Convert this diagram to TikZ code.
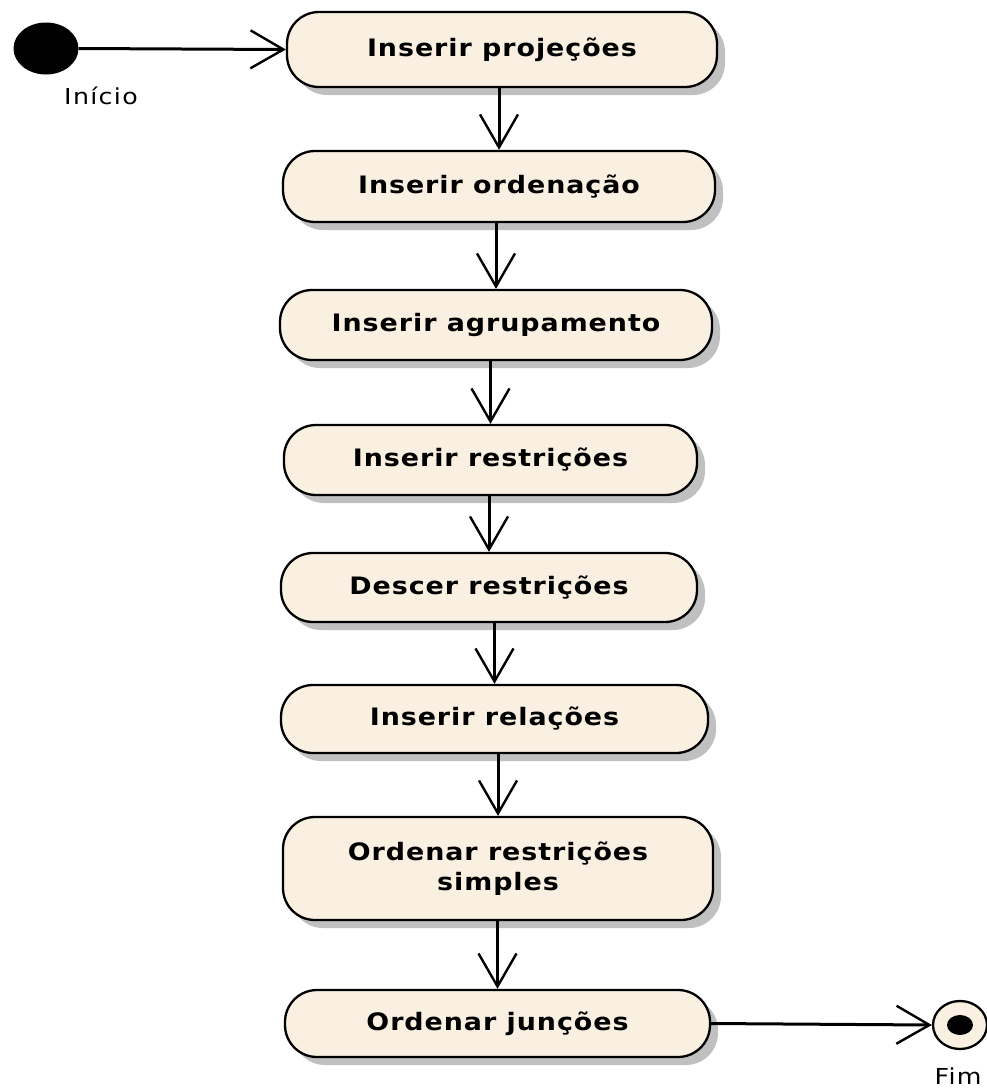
\documentclass[tikz,border=0pt]{standalone}
\usepackage{fontspec}
\setmainfont{DejaVu Sans}
\usetikzlibrary{arrows.meta,shadows,shapes.geometric}
\definecolor{actfill}{RGB}{250,240,226}
\definecolor{shade}{RGB}{192,192,192}
\begin{document}
\begin{tikzpicture}[x=1pt,y=-1pt,
  action/.style={draw, line width=2.3pt, fill=actfill, rounded corners=32pt,
    font=\bfseries\fontsize{24}{30}\selectfont\addfontfeatures{FakeStretch=1.12,LetterSpace=4},
    align=center, inner sep=0pt,
    drop shadow={shadow xshift=8pt, shadow yshift=-8pt, fill=shade, opacity=1}},
  flow/.style={line width=3pt, -{Straight Barb[length=33pt,width=38pt,line width=2.4pt]}},
  lbl/.style={font=\fontsize{22}{26}\selectfont\addfontfeatures{FakeStretch=1.15,LetterSpace=6}}
]
\useasboundingbox (0,0) rectangle (987,1090);

% activity states
\node[action, minimum width=430pt, minimum height=75pt] (a1) at (502,49.5) {Inserir projeções};
\node[action, minimum width=432pt, minimum height=71pt] (a2) at (499,186.5) {Inserir ordenação};
\node[action, minimum width=432pt, minimum height=70pt] (a3) at (496,325) {Inserir agrupamento};
\node[action, minimum width=413pt, minimum height=70pt] (a4) at (490.5,460) {Inserir restrições};
\node[action, minimum width=416pt, minimum height=69pt] (a5) at (489,587.5) {Descer restrições};
\node[action, minimum width=427pt, minimum height=68pt] (a6) at (494.5,719) {Inserir relações};
\node[action, minimum width=430pt, minimum height=103pt] (a7) at (498,868.5) {Ordenar restrições\\simples};
\node[action, minimum width=425pt, minimum height=67pt] (a8) at (497.5,1023.5) {Ordenar junções};

% initial state
\node[ellipse, fill=black, minimum width=65pt, minimum height=52pt, inner sep=0pt] (start) at (46,48.5) {};
\node[lbl] (startlbl) at (101,96) {Início};

% final state
\node[ellipse, draw, line width=2.3pt, fill=actfill, minimum width=54pt, minimum height=48pt, inner sep=0pt] (end) at (960,1025) {};
\node[ellipse, fill=black, minimum width=26pt, minimum height=20pt, inner sep=0pt] (enddot) at (end.center) {};
\node[lbl, anchor=west] (endlbl) at (931,1076) {Fim};

% transitions
\draw[flow] (start.east) -- (a1.west);
\draw[flow] (a2.north |- a1.south) -- (a2.north);
\draw[flow] (a3.north |- a2.south) -- (a3.north);
\draw[flow] (a4.north |- a3.south) -- (a4.north);
\draw[flow] (a5.north |- a4.south) -- (a5.north);
\draw[flow] (a6.north |- a5.south) -- (a6.north);
\draw[flow] (a7.north |- a6.south) -- (a7.north);
\draw[flow] (a8.north |- a7.south) -- (a8.north);
\draw[flow] (a8.east) -- (end.west);
\end{tikzpicture}
\end{document}
